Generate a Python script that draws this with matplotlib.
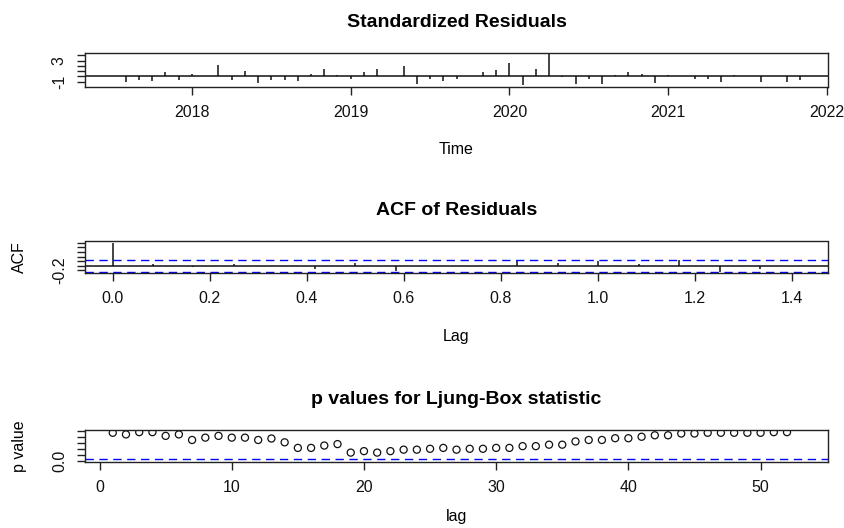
import numpy as np
import matplotlib.pyplot as plt

plt.rcParams['font.family'] = ['Liberation Sans', 'DejaVu Sans']

# standardized residuals, monthly from Jul 2017
start_year = 2017.5
std_resid = [0.02, -1.14, -0.6, -0.9, 0.8, -0.6, 0.4, 0.05, 2.1, -0.6,
             1.0, -1.2, -0.6, -0.6, -0.9, 0.5, 1.35, 0.35, -0.5, 0.8,
             1.35, 0.05, 1.9, -1.4, -0.4, -0.9, -0.4, 0.05, 0.8, 1.15,
             2.5, -1.7, 1.35, 4.2, -0.05, -1.5, -0.4, -1.5, 0.3, 0.9,
             0.4, -1.2, 0.3, 0.05, -0.4, -0.4, -1.0, 0.3, 0.05, -1.0,
             0.05, -1.0, -0.75]

# acf of residuals, lags 0..17 (in years)
acf_vals = [1.0, 0.06, -0.07, 0.07, 0.01, -0.14, 0.14, -0.23, -0.01,
            0.01, 0.2, 0.13, 0.2, 0.06, 0.26, -0.25, -0.14, 0.01]
acf_clim = 0.27

# Ljung-Box p values, lags 1..52
pvals = [0.945, 0.89, 0.967, 0.967, 0.84, 0.89, 0.70, 0.78, 0.84, 0.78,
         0.78, 0.70, 0.75, 0.62, 0.43, 0.43, 0.51, 0.56, 0.27, 0.32,
         0.27, 0.32, 0.37, 0.37, 0.40, 0.43, 0.37, 0.40, 0.40, 0.43,
         0.43, 0.49, 0.49, 0.54, 0.54, 0.65, 0.70, 0.70, 0.76, 0.76,
         0.81, 0.86, 0.86, 0.92, 0.92, 0.945, 0.945, 0.945, 0.945, 0.945,
         0.967, 0.967]

TITLE_SIZE = 14
LABEL_SIZE = 11.5


def style_axis(ax):
    for s in ax.spines.values():
        s.set_linewidth(1.0)
        s.set_color('#222222')
    ax.tick_params(length=6, width=1.0, color='#222222', labelsize=LABEL_SIZE,
                   labelcolor='#111111', pad=7)


def blue_line(ax, y):
    ax.axhline(y, color='#0000ff', lw=1.0, linestyle=(0, (6, 4)))


def titles(ax, title, xlab, ylab=None, xpad=16):
    ax.set_title(title, fontsize=TITLE_SIZE, fontweight='bold', pad=19)
    ax.set_xlabel(xlab, fontsize=LABEL_SIZE, labelpad=xpad)
    if ylab:
        ax.set_ylabel(ylab, fontsize=LABEL_SIZE, labelpad=18)


def plot_resid(ax):
    t = start_year + np.arange(len(std_resid)) / 12
    ax.vlines(t, 0, std_resid, color='#111111', lw=1.1)
    ax.axhline(0, color='#111111', lw=1.1)
    style_axis(ax)
    lo, hi = min(std_resid), max(std_resid)
    r = hi - lo
    ax.set_ylim(lo - 0.04 * r, hi + 0.04 * r)
    ax.set_xlim(t[0] - 0.04 * (t[-1] - t[0]), t[-1] + 0.04 * (t[-1] - t[0]))
    ax.set_xticks([2018, 2019, 2020, 2021, 2022])
    ax.set_yticks([-1, 0, 1, 2, 3, 4])
    ax.set_yticklabels(['-1', '', '', '', '3', ''], rotation=90, va='center')
    titles(ax, 'Standardized Residuals', 'Time')


def plot_acf(ax):
    lags = np.arange(len(acf_vals)) / 12
    ax.vlines(lags, 0, acf_vals, color='#111111', lw=1.1)
    ax.axhline(0, color='#111111', lw=1.1)
    blue_line(ax, acf_clim)
    blue_line(ax, -acf_clim)
    style_axis(ax)
    lo, hi = -acf_clim, max(acf_vals)
    r = hi - lo
    ax.set_ylim(lo - 0.04 * r, hi + 0.04 * r)
    ax.set_xlim(lags[0] - 0.04 * lags[-1], lags[-1] * 1.04)
    ax.set_xticks([0.0, 0.2, 0.4, 0.6, 0.8, 1.0, 1.2, 1.4])
    ax.set_xticklabels(['0.0', '0.2', '0.4', '0.6', '0.8', '1.0', '1.2', '1.4'])
    ax.set_yticks([-0.2, 0.0, 0.2, 0.4, 0.6, 0.8, 1.0])
    ax.set_yticklabels(['-0.2', '', '', '', '', '', ''], rotation=90, va='center')
    titles(ax, 'ACF of Residuals', 'Lag', 'ACF')


def plot_pvals(ax):
    lag = np.arange(1, len(pvals) + 1)
    ax.scatter(lag, pvals, s=26, facecolors='none', edgecolors='#111111',
               linewidths=0.9)
    blue_line(ax, 0.05)
    style_axis(ax)
    ax.set_ylim(-0.04, 1.04)
    ax.set_xlim(-1.1, 55.1)
    ax.set_xticks([0, 10, 20, 30, 40, 50])
    ax.set_yticks([0.0, 0.2, 0.4, 0.6, 0.8, 1.0])
    ax.set_yticklabels(['0.0', '', '', '', '', ''], rotation=90, va='center')
    # keep "lag" inside the figure edge
    titles(ax, 'p values for Ljung-Box statistic', 'lag', 'p value', xpad=10)


def main():
    fig = plt.figure(figsize=(8.44, 5.28), dpi=100)
    left, width = 85 / 844, 743 / 844
    ax1 = fig.add_axes([left, 1 - 86.7 / 528, width, 33.7 / 528])
    ax2 = fig.add_axes([left, 1 - 273.3 / 528, width, 31.8 / 528])
    ax3 = fig.add_axes([left, 1 - 461.7 / 528, width, 31.7 / 528])
    plot_resid(ax1)
    plot_acf(ax2)
    plot_pvals(ax3)
    fig.savefig('out.png', dpi=100)


main()
